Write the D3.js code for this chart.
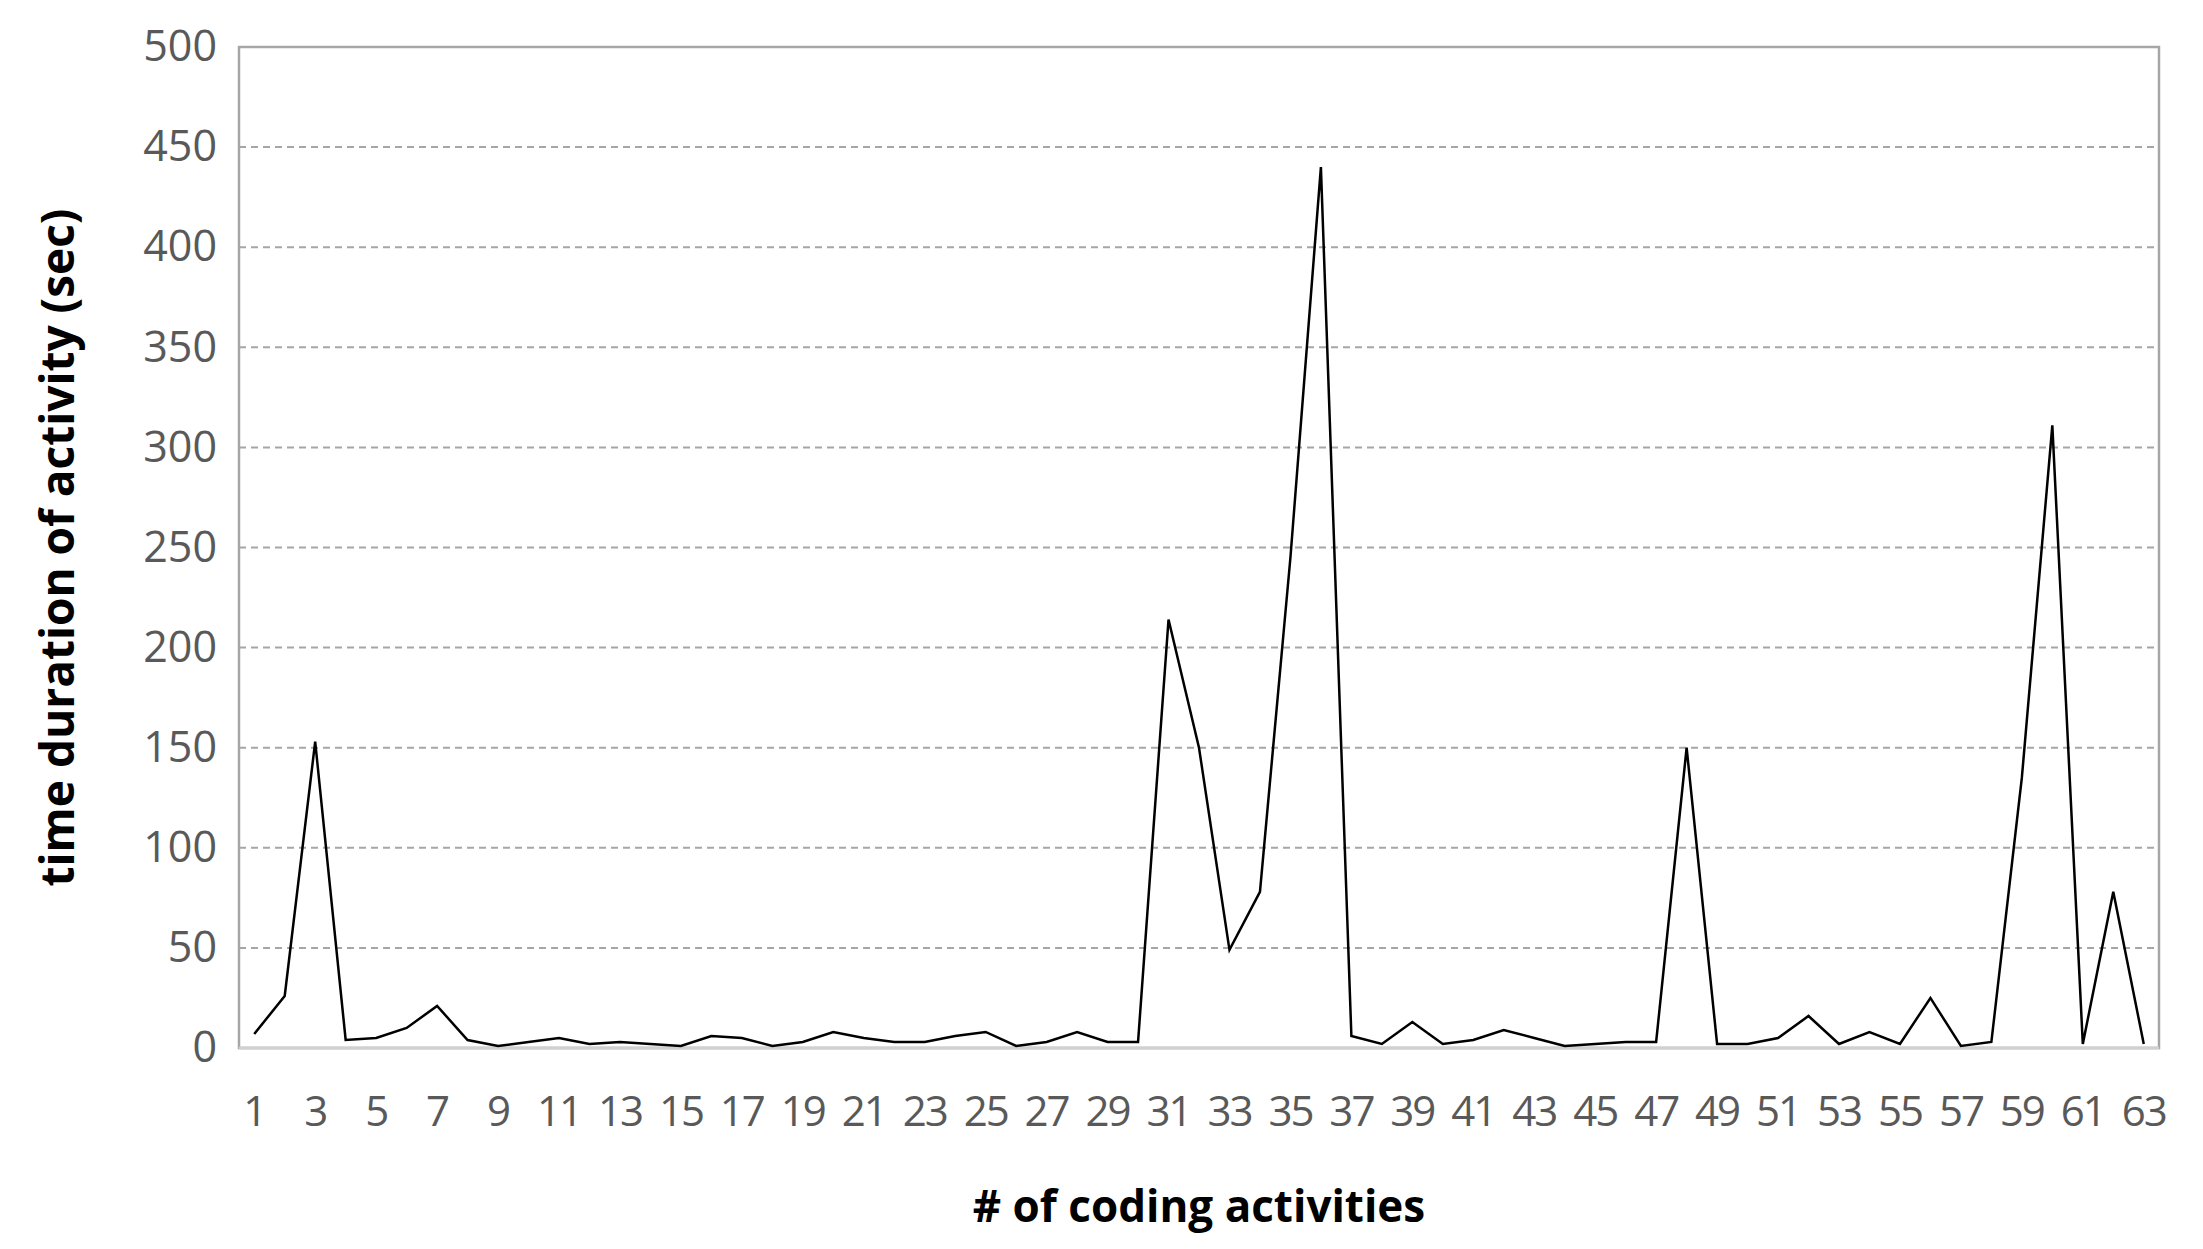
<!DOCTYPE html>
<html>
<head>
<meta charset="utf-8">
<script src="https://cdn.jsdelivr.net/npm/d3@7"></script>
<style>
  body { margin: 0; background: #fff; }
  text { font-family: "Open Sans", sans-serif; }
</style>
</head>
<body>
<svg id="chart" width="2203" height="1249"></svg>
<script>
'use strict';

// activity index 1..63
const activities = d3.range(1, 64);
// time duration of each activity (sec)
const durations = [
  7, 26, 153, 4, 5, 10, 21, 4, 1, 3,
  5, 2, 3, 2, 1, 6, 5, 1, 3, 8,
  5, 3, 3, 6, 8, 1, 3, 8, 3, 3,
  214, 150, 49, 78, 245, 440, 6, 2, 13, 2,
  4, 9, 5, 1, 2, 3, 3, 150, 2, 2,
  5, 16, 2, 8, 2, 25, 1, 3, 135, 311,
  2, 78, 2
];
const yTicks = [0, 50, 100, 150, 200, 250, 300, 350, 400, 450, 500];

const margin = { left: 239, right: 44, top: 47, bottom: 201 };
const width = 2203, height = 1249;
const svg = d3.select("#chart");

const x = d3.scaleBand()
  .domain(activities)
  .range([margin.left, width - margin.right]);

const y = d3.scaleLinear()
  .domain([0, 500])
  .range([height - margin.bottom, margin.top]);

// dashed gridlines
svg.append("g")
  .selectAll("line")
  .data(yTicks.filter((t) => t > 0 && t < 500))
  .enter()
  .append("line")
    .attr("x1", margin.left)
    .attr("x2", width - margin.right)
    .attr("y1", (d) => y(d))
    .attr("y2", (d) => y(d))
    .attr("stroke", "#a6a6a6")
    .attr("stroke-width", 2)
    .attr("stroke-dasharray", "7,5");

// plot frame
svg.append("rect")
  .attr("x", margin.left)
  .attr("y", margin.top)
  .attr("width", width - margin.left - margin.right)
  .attr("height", height - margin.top - margin.bottom)
  .attr("fill", "none")
  .attr("stroke", "#a6a6a6")
  .attr("stroke-width", 2.5);

// baseline
svg.append("line")
  .attr("x1", margin.left)
  .attr("x2", width - margin.right)
  .attr("y1", y(0))
  .attr("y2", y(0))
  .attr("stroke", "#d0d0d0")
  .attr("stroke-width", 3);

// y axis
const yAxis = svg.append("g")
  .attr("transform", `translate(${margin.left},0)`)
  .call(d3.axisLeft(y).tickValues(yTicks).tickSize(0).tickPadding(22));
yAxis.select(".domain").remove();
yAxis.selectAll("text")
  .attr("fill", "#595959")
  .style("font-size", "43px");

// x axis, label on every other activity
const xAxis = svg.append("g")
  .attr("transform", `translate(0,${y(0)})`)
  .call(d3.axisBottom(x)
    .tickValues(activities.filter((d) => d % 2 === 1))
    .tickSize(0)
    .tickPadding(48));
xAxis.select(".domain").remove();
xAxis.selectAll("text")
  .attr("fill", "#595959")
  .style("font-size", "42px")
  .style("letter-spacing", "-2px");

// series line
const line = d3.line()
  .x((d, i) => x(activities[i]) + x.bandwidth() / 2)
  .y((d) => y(d));

svg.append("path")
  .datum(durations)
  .attr("d", line)
  .attr("fill", "none")
  .attr("stroke", "#000")
  .attr("stroke-width", 2.5)
  .attr("stroke-linejoin", "miter");

// axis titles
svg.append("text")
  .attr("x", (margin.left + width - margin.right) / 2)
  .attr("y", 1222)
  .attr("text-anchor", "middle")
  .attr("fill", "#000")
  .style("font-size", "44px")
  .style("font-weight", "bold")
  .text("# of coding activities");

svg.append("text")
  .attr("transform", `translate(74,${(margin.top + y(0)) / 2}) rotate(-90)`)
  .attr("text-anchor", "middle")
  .attr("fill", "#000")
  .style("font-size", "46px")
  .style("font-weight", "bold")
  .text("time duration of activity (sec)");
</script>
</body>
</html>
